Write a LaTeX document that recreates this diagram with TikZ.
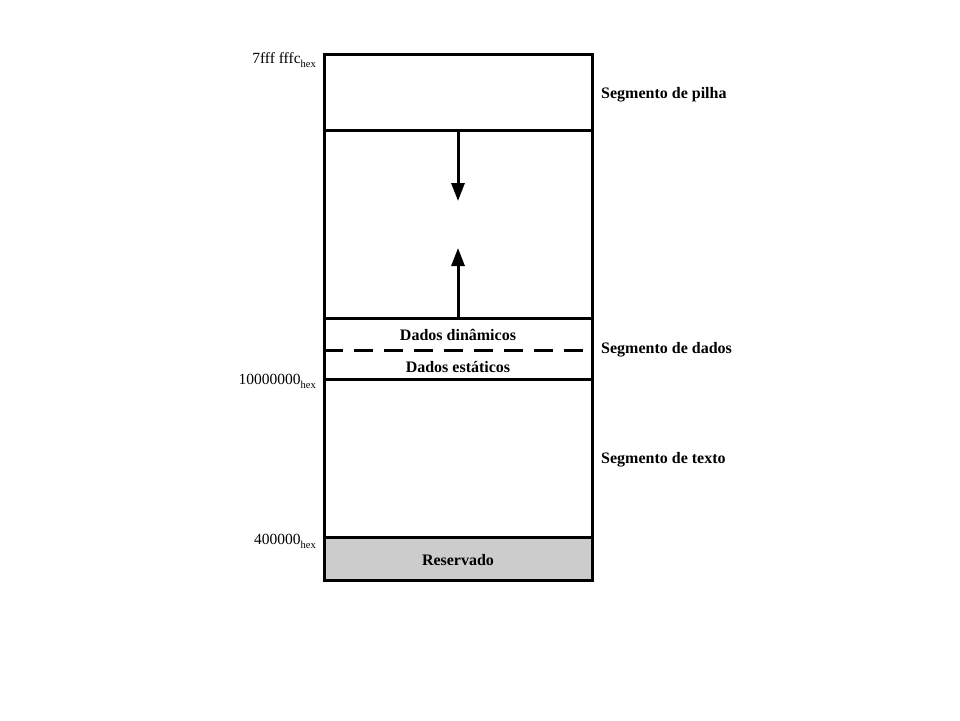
\documentclass[tikz,border=0pt]{standalone}
\usepackage{fontspec}
\setmainfont{Liberation Serif}
\usetikzlibrary{arrows.meta}
\newcommand{\hexsub}{\raisebox{-4pt}{\fontsize{10.5}{12}\selectfont hex}}
\begin{document}
\begin{tikzpicture}[x=1pt,y=-1pt,
  seg/.style={draw,line width=3pt,anchor=north west,inner sep=0pt,outer sep=0pt,minimum width=268pt},
  lbl/.style={font=\fontsize{16}{18}\selectfont\bfseries,inner sep=0pt},
  addr/.style={font=\fontsize{15.5}{18}\selectfont,inner sep=0pt,anchor=base east},
  growarrow/.style={line width=3pt,-{Triangle[length=18pt,width=13pt]}}]
\useasboundingbox (0,0) rectangle (960,720);
\node[seg,minimum height=76pt] (stack) at (324,54) {};
\node[seg,minimum height=188pt] (free) at (324,130) {};
\node[seg,minimum height=61pt] (data) at (324,318) {};
\node[seg,minimum height=158pt] (text) at (324,379) {};
\node[seg,minimum height=43pt,fill=black!20] (res) at (324,537) {};
\node[lbl] (resl) at (458,560) {Reservado};
\node[lbl] (dyn) at (458,335) {Dados dinâmicos};
\node[lbl] (sta) at (458,367) {Dados estáticos};
\coordinate (dl) at (324,350);
\coordinate (dr) at (592,350);
\draw[line width=3pt,dash pattern=on 19pt off 11pt] (dl) -- (dr);
\coordinate (downtip) at (458,201);
\coordinate (uptip) at (458,248);
\draw[growarrow] (free.north) -- (downtip);
\draw[growarrow] (free.south) -- (uptip);
\node[lbl,anchor=west] (pilha) at (601,95) {Segmento de pilha};
\node[lbl,anchor=west] (dados) at (601,350) {Segmento de dados};
\node[lbl,anchor=west] (texto) at (601,460) {Segmento de texto};
\node[addr] (a1) at (316,63) {7fff fffc\hexsub};
\node[addr] (a2) at (316,384) {10000000\hexsub};
\node[addr] (a3) at (316,544) {400000\hexsub};
\end{tikzpicture}
\end{document}
